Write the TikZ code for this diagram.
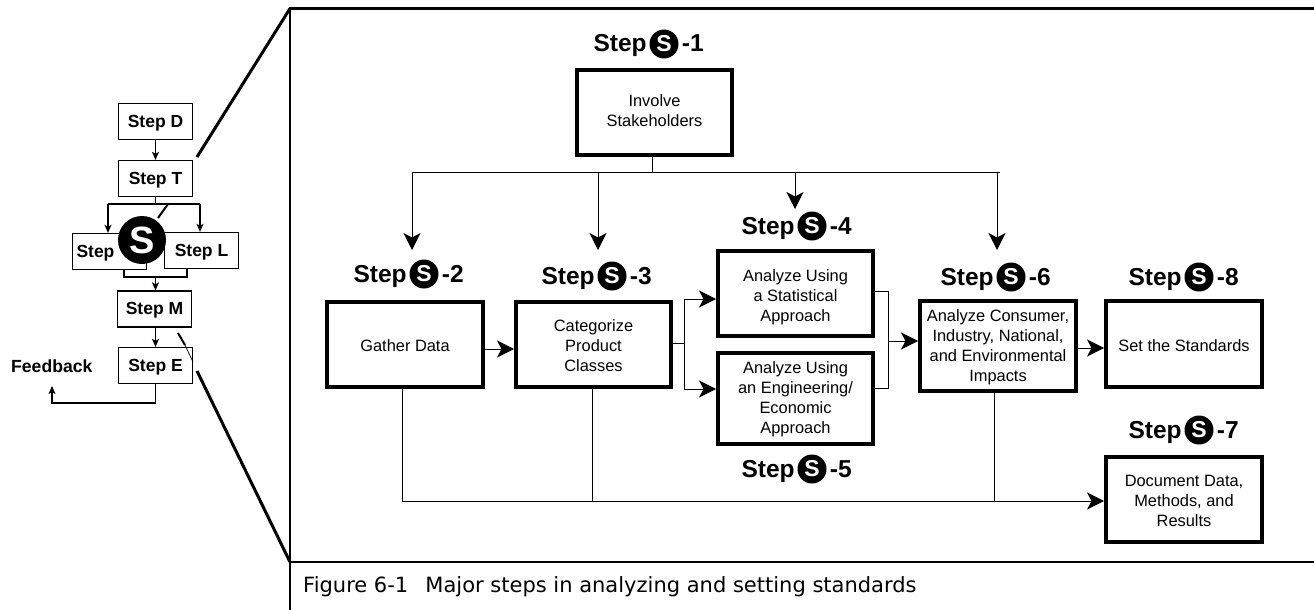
\documentclass[tikz,border=0pt]{standalone}
\usepackage{fontspec}
\setmainfont{Liberation Sans}
\newfontfamily\capfont{DejaVu Sans}
\usetikzlibrary{arrows.meta}
\newcommand{\fsz}[2]{\fontsize{#1pt}{#2pt}\selectfont}
\newcommand{\dn}[1]{\rule{0pt}{#1pt}}
\tikzset{
  x=1pt,y=-1pt,
  bigbox/.style={draw=black,line width=4pt,fill=white,inner sep=0pt,align=center,font=\fsz{16.4}{20}},
  smallbox/.style={draw=black,line width=1.3pt,fill=white,inner sep=0pt,font=\fsz{17.5}{20}\bfseries,minimum width=74pt,minimum height=36pt},
  conn/.style={line width=1pt,draw=black},
  bigarrow/.style={conn,-{Stealth[length=17pt,width=17pt,inset=4.5pt]}},
  smallconn/.style={line width=1.2pt,draw=black},
  smallarrow/.style={smallconn,-{Stealth[length=8pt,width=7pt,inset=2pt]}},
  zoomline/.style={line width=3pt,draw=black},
  framerule/.style={line width=2.6pt,draw=black,line cap=rect},
  steptxt/.style={font=\fsz{24.5}{26}\bfseries,inner sep=0pt},
  badge/.style={circle,fill=black,text=white,inner sep=0pt,minimum size=29pt,font=\fsz{23}{24}\bfseries},
}
\newcommand{\stephead}[3]{%
  \node[badge] (#1c) at (#2) {S};
  \node[steptxt,anchor=base east] (#1a) at ([xshift=-2.5pt,yshift=-8pt]#1c.west) {Step};
  \node[steptxt,anchor=base west] (#1b) at ([xshift=3pt,yshift=-8pt]#1c.east) {-#3};
}
\begin{document}
\begin{tikzpicture}
\useasboundingbox (0,0) rectangle (1314,610);
% frame
\coordinate (ftl) at (290,8.5);
\coordinate (ftr) at (1314,8.5);
\coordinate (fbl) at (290,610);
\coordinate (rl) at (290,562);
\coordinate (rr) at (1314,562);
\draw[framerule] (ftr) -- (ftl) -- (fbl);
\draw[framerule] (rl) -- (rr);
\node[anchor=base west,inner sep=0pt,font=\capfont\fsz{21}{22}] (cap) at (303,592) {Figure 6-1\hspace{0.5em} Major steps in analyzing and setting standards};
% left flow
\node[smallbox] (d) at (155.5,121.5) {\dn{15.6}Step D};
\node[smallbox] (t) at (155.5,178.5) {\dn{15.6}Step T};
\node[smallbox,text width=66pt,align=left] (q) at (109.5,251.5) {\dn{15.6}Step};
\node[smallbox] (l) at (201.5,250.5) {\dn{15.6}Step L};
\node[smallbox] (m) at (154.5,309) {\dn{15.6}Step M};
\node[smallbox] (e) at (155.5,365.5) {\dn{15.6}Step E};
\node[inner sep=0pt,anchor=base west,font=\fsz{17.6}{20}\bfseries] (fb) at (11,372) {Feedback};
\coordinate (jt) at (155.5,204);
\coordinate (jb) at (155.5,277);
\coordinate (jql) at (108,204);
\coordinate (jlr) at (200,204);
\coordinate (qb) at (124,277);
\coordinate (lb) at (187,277);
\coordinate (fa) at (155.5,403);
\coordinate (fe) at (52,403);
\coordinate (ft) at (52,386);
\draw[smallarrow] (d) -- (t);
\draw[smallconn] (t) -- (jt);
\draw[smallconn] (jql) -- (jlr);
\draw[smallarrow] (jql) -- (jql |- q.north);
\draw[smallarrow] (jlr) -- (jlr |- l.north);
\draw[smallconn] (qb |- q.south) -- (qb) -- (lb) -- (lb |- l.south);
\draw[smallarrow] (jb) -- (jb |- m.north);
\draw[smallarrow] (m.south -| e) -- (e);
\draw[smallarrow] (e) -- (fa) -- (fe) -- (ft);
% zoom lines
\coordinate (zu) at (197,157);
\coordinate (zua) at (168,204);
\coordinate (zub) at (158,218);
\coordinate (zl) at (197,371);
\coordinate (zla) at (178,333);
\coordinate (zlb) at (185,345);
\coordinate (zlc) at (193,362);
\draw[zoomline] (zu) -- (ftl);
\draw[zoomline] (zl) -- (rl);
\draw[line width=2pt] (zua) -- (zub);
\draw[line width=2pt] (zla) -- (zlb);
\draw[line width=.7pt] (zlb) -- (zlc);
\node[circle,fill=black,text=white,inner sep=0pt,minimum size=48pt,font=\fsz{38}{40}\bfseries] (bigs) at (142,240) {S};
% main boxes
\node[bigbox,minimum width=155pt,minimum height=85pt] (s1) at (654.5,112.5) {Involve\\Stakeholders\rule[-4pt]{0pt}{4pt}};
\node[bigbox,minimum width=156pt,minimum height=85pt] (s2) at (405,344.5) {\dn{14}Gather Data};
\node[bigbox,minimum width=155pt,minimum height=85pt] (s3) at (593.5,344.5) {\dn{14}Categorize\\Product\\Classes};
\node[bigbox,minimum width=155pt,minimum height=85pt] (s4) at (795.5,293.5) {\dn{20}Analyze Using\\a Statistical\\Approach};
\node[bigbox,minimum width=155pt,minimum height=91pt] (s5) at (795.5,398.5) {\dn{14}Analyze Using\\an Engineering/\\Economic\\Approach};
\node[bigbox,minimum width=156pt,minimum height=90pt] (s6) at (998,346) {\dn{14}Analyze Consumer,\\Industry, National,\\and Environmental\\Impacts};
\node[bigbox,minimum width=156pt,minimum height=86pt] (s8) at (1184,344) {\dn{16}Set the Standards};
\node[bigbox,minimum width=156pt,minimum height=85pt] (s7) at (1184,499.5) {\dn{14}Document Data,\\Methods, and\\Results};
% headings
\stephead{h1}{664,44}{1}
\stephead{h2}{424,274}{2}
\stephead{h3}{612,276}{3}
\stephead{h4}{812,226}{4}
\stephead{h5}{812,469}{5}
\stephead{h6}{1011,277}{6}
\stephead{h8}{1199,277}{8}
\stephead{h7}{1199,430}{7}
% top branch
\coordinate (b0) at (652,172);
\coordinate (b2) at (412,172);
\coordinate (b3) at (598,172);
\coordinate (b4) at (795,172);
\coordinate (b6) at (997,172);
\coordinate (t2) at (412,250);
\coordinate (t3) at (598,250);
\coordinate (t4) at (795,209);
\coordinate (t6) at (997,250);
\draw[conn] (b0 |- s1.south) -- (b0);
\draw[conn] (b2) -- (1000,172);
\draw[bigarrow] (b2) -- (t2);
\draw[bigarrow] (b3) -- (t3);
\draw[bigarrow] (b4) -- (t4);
\draw[bigarrow] (b6) -- (t6);
% horizontal flow
\draw[bigarrow] (s2.east |- 0,349) -- (s3.west |- 0,349);
\coordinate (o3) at (684,343);
\draw[conn] (s3.east |- o3) -- (o3);
\coordinate (o3u) at (684,299);
\coordinate (o3d) at (684,389);
\draw[conn] (o3u) -- (o3d);
\draw[bigarrow] (o3u) -- (o3u -| s4.west);
\draw[bigarrow] (o3d) -- (o3d -| s5.west);
\coordinate (i4) at (888,291);
\coordinate (i5) at (888,388);
\coordinate (i6) at (888,341);
\draw[conn] (i4 -| s4.east) -- (i4) -- (i5) -- (i5 -| s5.east);
\draw[bigarrow] (i6) -- (i6 -| s6.west);
\draw[bigarrow] (s6.east |- 0,348) -- (s8.west |- 0,348);
% bottom bus
\coordinate (u2) at (402,501);
\coordinate (u3) at (592,501);
\coordinate (u6) at (994,501);
\draw[conn] (u2 |- s2.south) -- (u2);
\draw[conn] (u3 |- s3.south) -- (u3);
\draw[conn] (u6 |- s6.south) -- (u6);
\draw[bigarrow] (u2) -- (u2 -| s7.west);
\end{tikzpicture}
\end{document}
